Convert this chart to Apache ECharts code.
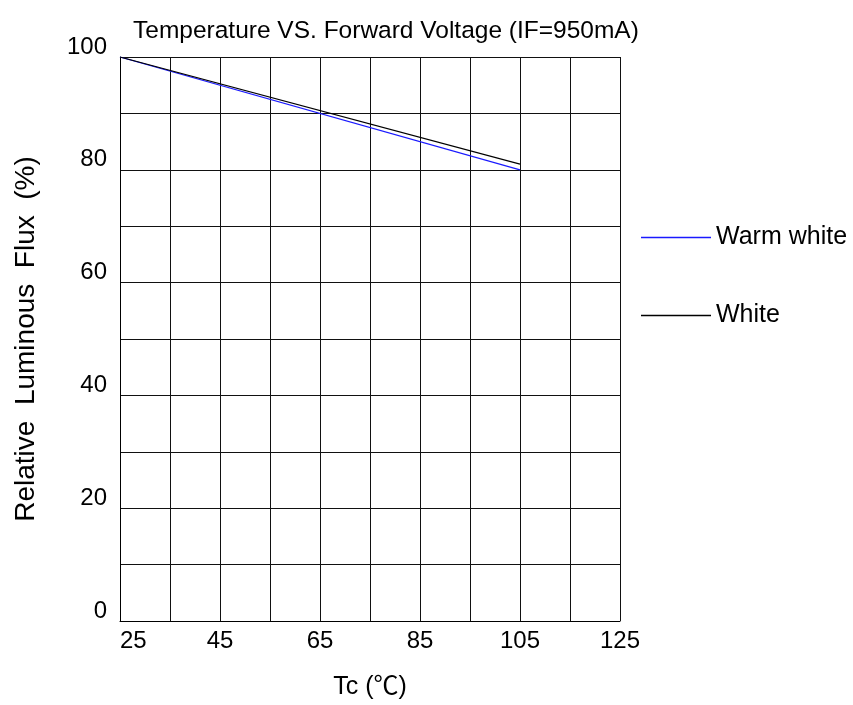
<!DOCTYPE html>
<html>
<head>
<meta charset="utf-8">
<script src="https://cdn.jsdelivr.net/npm/echarts@6/dist/echarts.min.js"></script>
<style>html,body{margin:0;padding:0;background:#fff}#c{width:853px;height:705px}</style>
</head>
<body>
<div id="c"></div>
<script>
const titleText = 'Temperature VS. Forward Voltage (IF=950mA)';
const xName = 'Tc (℃)';
const yName = 'Relative  Luminous  Flux  (%)';
const seriesNames = ['Warm white', 'White'];
const warmWhiteTc = [25, 105];
const warmWhiteFlux = [100, 80];
const whiteTc = [25, 105];
const whiteFlux = [100, 81];
const xTickLabels = [25, 45, 65, 85, 105, 125];
const yTickLabels = [0, 20, 40, 60, 80, 100];

const font = 'Liberation Sans, Arial, Noto Sans CJK SC, sans-serif';
const chart = echarts.init(document.getElementById('c'));
chart.setOption({
  animation: false,
  backgroundColor: '#fff',
  title: {
    text: titleText, left: 128, top: 14,
    textStyle: { fontFamily: font, fontSize: 24.5, fontWeight: 'normal', color: '#000' }
  },
  legend: [
    { data: [seriesNames[0]], left: 641, top: 225, padding: 0, icon: 'rect', itemWidth: 70, itemHeight: 1.5, itemGap: 6,
      textStyle: { fontFamily: font, fontSize: 25, color: '#000' } },
    { data: [seriesNames[1]], left: 641, top: 303, padding: 0, icon: 'rect', itemWidth: 70, itemHeight: 1.5, itemGap: 6,
      textStyle: { fontFamily: font, fontSize: 25, color: '#000' } }
  ],
  grid: { left: 120, right: 233, top: 57, bottom: 84, containLabel: false },
  xAxis: {
    type: 'value', min: 25, max: 125, interval: 10,
    name: xName, nameLocation: 'middle', nameGap: 54,
    nameTextStyle: { fontFamily: font, fontSize: 25, color: '#000' },
    axisLine: { show: true, lineStyle: { color: '#000', width: 1 } },
    axisTick: { show: false },
    axisLabel: {
      margin: 8, fontFamily: font, fontSize: 24, color: '#000',
      alignMinLabel: 'left',
      formatter: v => xTickLabels.indexOf(v) >= 0 ? String(v) : ''
    },
    splitLine: { show: true, lineStyle: { color: '#111', width: 1 } }
  },
  yAxis: {
    type: 'value', min: 0, max: 100, interval: 10,
    name: yName, nameLocation: 'middle', nameGap: 80,
    nameTextStyle: { fontFamily: font, fontSize: 28, color: '#000' },
    axisLine: { show: true, lineStyle: { color: '#000', width: 1 } },
    axisTick: { show: false },
    axisLabel: {
      margin: 13, fontFamily: font, fontSize: 24, color: '#000',
      verticalAlign: 'bottom', lineHeight: 20,
      formatter: v => yTickLabels.indexOf(v) >= 0 ? String(v) : ''
    },
    splitLine: { show: true, lineStyle: { color: '#111', width: 1 } }
  },
  series: [
    { name: seriesNames[0], type: 'line', symbol: 'none', color: '#1a1aff',
      lineStyle: { color: '#1a1aff', width: 1.2 },
      data: warmWhiteTc.map((x, i) => [x, warmWhiteFlux[i]]) },
    { name: seriesNames[1], type: 'line', symbol: 'none', color: '#000',
      lineStyle: { color: '#000', width: 1.2 },
      data: whiteTc.map((x, i) => [x, whiteFlux[i]]) }
  ]
});
</script>
</body>
</html>
